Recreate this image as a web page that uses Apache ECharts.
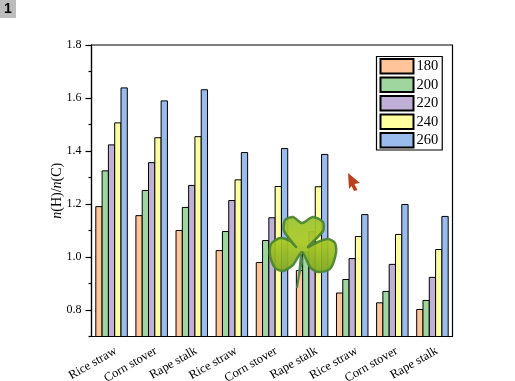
<!DOCTYPE html>
<html><head><meta charset="utf-8">
<style>html,body{margin:0;padding:0;background:#fff}#c{width:515px;height:381px}</style>
<script src="https://cdn.jsdelivr.net/npm/echarts@6/dist/echarts.min.js"></script>
</head><body><div id="c"></div>
<script>
const categories = ["Rice straw","Corn stover","Rape stalk","Rice straw","Corn stover","Rape stalk","Rice straw","Corn stover","Rape stalk"];
const s180 = [1.192,1.158,1.102,1.026,0.981,0.951,0.866,0.829,0.804];
const s200 = [1.327,1.253,1.189,1.098,1.064,1.020,0.917,0.872,0.838];
const s220 = [1.425,1.358,1.272,1.215,1.150,1.097,0.996,0.974,0.925];
const s240 = [1.508,1.452,1.456,1.293,1.268,1.267,1.079,1.087,1.030];
const s260 = [1.640,1.591,1.633,1.396,1.411,1.389,1.162,1.200,1.155];
const seriesNames = ["180","200","220","240","260"];
const seriesColors = ["#FFC499","#9FD69F","#C0B0D8","#FFFFA0","#99BBEE"];
const majorY = [0.8,1.0,1.2,1.4,1.6,1.8];
const minorY = [0.7,0.9,1.1,1.3,1.5,1.7];
const serif = '"Liberation Serif","Times New Roman",serif';
const allValues = [s180,s200,s220,s240,s260];

const lineStyle = {color:'#000',width:1.2};
const chart = echarts.init(document.getElementById('c'),null,{renderer:'canvas'});
chart.setOption({
  animation:false,
  backgroundColor:'#fff',
  grid:{left:91.5,right:62.5,top:45,bottom:44.5,outerBoundsMode:'none',show:true,borderColor:'#000',borderWidth:1.2,backgroundColor:'transparent'},
  legend:{
    orient:'vertical',left:376.5,top:56.5,padding:[1.5,4,1.5,3],itemGap:2,itemWidth:33,itemHeight:14.5,icon:'rect',
    borderColor:'#000',borderWidth:1.2,backgroundColor:'#fff',
    textStyle:{fontFamily:serif,fontSize:14.5,lineHeight:16,color:'#000',padding:[0,0,0,-2]},
    data:seriesNames
  },
  xAxis:[
    {type:'category',data:categories,position:'bottom',
     axisLine:{lineStyle},axisTick:{alignWithLabel:true,length:6,lineStyle},
     axisLabel:{interval:0,rotate:30,margin:16,fontFamily:serif,fontSize:12.5,color:'#000',hideOverlap:false,padding:[0,-5,0,0]}},
    {type:'category',data:categories,position:'bottom',
     axisLine:{show:false},axisTick:{alignWithLabel:false,length:3,lineStyle},axisLabel:{show:false}}
  ],
  yAxis:[
    {type:'value',min:0.7,max:1.8,interval:0.1,position:'left',splitLine:{show:false},
     axisLine:{show:true,lineStyle},
     axisTick:{show:true,length:6,lineStyle,customValues:majorY},
     axisLabel:{fontFamily:serif,fontSize:12,color:'#000',margin:10,customValues:majorY,formatter:v=>v.toFixed(1)},
     name:'{i|n}{t|(H)/}{i|n}{t|(C)}',nameLocation:'middle',nameGap:27,nameMoveOverlap:false,
     nameTextStyle:{rich:{i:{fontFamily:serif,fontSize:14,fontStyle:'italic',color:'#000'},t:{fontFamily:serif,fontSize:14,color:'#000'}}}},
    {type:'value',min:0.7,max:1.8,interval:0.1,position:'left',splitLine:{show:false},
     axisLine:{show:false},
     axisTick:{show:true,length:3,lineStyle,customValues:minorY},
     axisLabel:{show:false}}
  ],
  series:seriesNames.map((n,i)=>({
    name:n,type:'bar',xAxisIndex:0,yAxisIndex:0,data:allValues[i],barWidth:7.3,barGap:'-13.7%',
    itemStyle:{color:seriesColors[i],borderColor:'#000',borderWidth:1}
  })),
  graphic:[
    {type:'group',silent:true,z:100,children:[
      {type:'rect',shape:{x:0,y:0,width:16,height:18},style:{fill:'#BDBDBD'}},
      {type:'text',x:4,y:2,style:{text:'1',fontFamily:'"Liberation Sans",Arial,sans-serif',fontWeight:'bold',fontSize:14,fill:'#000'}}
    ]},
    {type:'polygon',silent:true,z:100,shape:{points:[[348,173],[360,183],[354.5,184],[357.5,190],[354,191],[351.5,186],[349,189]]},style:{fill:'#B8401A'}},
    {type:'polygon',silent:true,z:100,shape:{points:[[302,254],[303,262],[300,276],[298,288],[296,288],[298,274],[300,254]]},style:{fill:'#4E8A50'}},
    {type:'polygon',silent:true,z:101,
     shape:{smooth:0.25,points:[[302,252],[293,265],[283,271],[275,268],[270,256],[271,244],[280,238],[290,241],[296,247],[284,231],[285,220],[293,217],[302,223],[313,217],[323,222],[323,231],[308,247],[318,242],[328,239],[335,243],[336,253],[330,269],[318,272],[310,267]]},
     style:{fill:new echarts.graphic.LinearGradient(0,0,0,1,[{offset:0,color:'#9CC230'},{offset:0.45,color:'#A8C820'},{offset:1,color:'#7EA820'}]),stroke:'#4A8430',lineWidth:2.5,opacity:0.93}}
  ]
});
</script></body></html>
